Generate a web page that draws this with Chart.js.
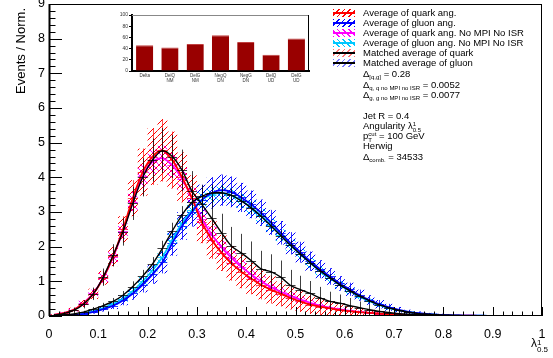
<!DOCTYPE html>
<html>
<head>
<meta charset="utf-8">
<script src="https://cdn.jsdelivr.net/npm/chart.js@4.4.0/dist/chart.umd.min.js"></script>
<style>
  body { margin: 0; background: #fff; font-family: "Liberation Sans", Arial, sans-serif; }
  #wrap { position: relative; width: 553px; height: 358px; overflow: hidden; }
  #mainChart { position: absolute; left: 0; top: 0; }
  #insetChart { position: absolute; left: 110px; top: 8px; }
  .leg { position: absolute; left: 333px; height: 10px; font-size: 9.5px; line-height: 10px; white-space: nowrap; }
  .sw { position: absolute; left: 0; top: 1px; width: 22px; height: 8px; }
  .sw i { position: absolute; left: 0; right: 0; top: 3px; height: 2px; }
  .leg .t { position: absolute; left: 30px; top: 0; }
  .note { position: absolute; left: 363px; font-size: 9.5px; line-height: 10px; white-space: nowrap; }
  .note sub { font-size: 6px; vertical-align: -2px; line-height: 0; }
  .ss { display: inline-block; vertical-align: -3px; font-size: 6px; line-height: 6px; }
  .ss b { display: block; font-weight: normal; }
  #ytitle { position: absolute; left: 20px; top: 8px; font-size: 13px; white-space: nowrap;
            transform-origin: 0 0; transform: rotate(-90deg) translate(-100%, -50%); }
  #xtitle { position: absolute; right: 5px; top: 336px; font-size: 12px; white-space: nowrap; }
  #xtitle .ss { font-size: 8px; line-height: 7px; vertical-align: -5px; }
</style>
</head>
<body>
<div id="wrap">
  <canvas id="mainChart" width="553" height="358"></canvas>
  <canvas id="insetChart" width="205" height="78"></canvas>

  <div class="leg" style="top:8px"><div class="sw" style="background:repeating-linear-gradient(135deg,#ff0000 0 1px,transparent 1px 4px)"><i style="background:#ff0000"></i></div><span class="t">Average of quark ang.</span></div>
  <div class="leg" style="top:18px"><div class="sw" style="background:repeating-linear-gradient(135deg,#0000ff 0 1px,transparent 1px 4px)"><i style="background:#0000ff"></i></div><span class="t">Average of gluon ang.</span></div>
  <div class="leg" style="top:28px"><div class="sw" style="background:repeating-linear-gradient(45deg,#ff00ff 0 1px,transparent 1px 4px)"><i style="background:#ff00ff"></i></div><span class="t">Average of quark ang. No MPI No ISR</span></div>
  <div class="leg" style="top:38px"><div class="sw" style="background:repeating-linear-gradient(45deg,#00c8ff 0 1px,transparent 1px 4px)"><i style="background:#00c8ff"></i></div><span class="t">Average of gluon ang. No MPI No ISR</span></div>
  <div class="leg" style="top:48px"><div class="sw" style="background:repeating-linear-gradient(135deg,rgba(255,60,60,0.7) 0 1px,transparent 1px 4px)"><i style="background:#000"></i></div><span class="t">Matched average of quark</span></div>
  <div class="leg" style="top:58px"><div class="sw" style="background:repeating-linear-gradient(135deg,rgba(60,60,255,0.7) 0 1px,transparent 1px 4px)"><i style="background:#000"></i></div><span class="t">Matched average of gluon</span></div>

  <div class="note" style="top:69px">Δ<sub>[q,g]</sub> = 0.28</div>
  <div class="note" style="top:80px">Δ<sub>q, q no MPI no ISR</sub> = 0.0052</div>
  <div class="note" style="top:90px">Δ<sub>g, g no MPI no ISR</sub> = 0.0077</div>
  <div class="note" style="top:111px">Jet R = 0.4</div>
  <div class="note" style="top:121px">Angularity λ<span class="ss"><b>1</b><b>0.5</b></span></div>
  <div class="note" style="top:131px">p<span class="ss"><b>cut</b><b>T</b></span> = 100 GeV</div>
  <div class="note" style="top:141px">Herwig</div>
  <div class="note" style="top:152px">Δ<sub>comb.</sub> = 34533</div>

  <div id="ytitle">Events / Norm.</div>
  <div id="xtitle">λ<span class="ss"><b>1</b><b>0.5</b></span></div>
</div>

<script>
// bin centres of the angularity histograms
const binCenters = [0.01,0.03,0.05,0.07,0.09,0.11,0.13,0.15,0.17,0.19,
                    0.21,0.23,0.25,0.27,0.29,0.31,0.33,0.35,0.37,0.39,
                    0.41,0.43,0.45,0.47,0.49,0.51,0.53,0.55,0.57,0.59,
                    0.61,0.63,0.65,0.67,0.69,0.71,0.73,0.75,0.77,0.79,
                    0.81,0.83,0.85,0.87,0.89,0.91,0.93,0.95,0.97,0.99];

const quarkAvg = [0.03,0.08,0.18,0.36,0.64,1.10,1.72,2.50,3.40,4.15,
                  4.60,4.78,4.50,4.00,3.40,2.70,2.20,1.82,1.52,1.28,
                  1.08,0.90,0.76,0.64,0.52,0.42,0.33,0.27,0.22,0.17,
                  0.14,0.11,0.09,0.07,0.05,0.04,0.03,0.02,0.02,0.01,
                  0.01,0.01,0.01,0.005,0.005,0.005,0.003,0.002,0.001,0.001];
const quarkAvgErr = [0.02,0.04,0.06,0.10,0.15,0.20,0.28,0.38,0.52,0.68,
                     0.82,0.90,0.82,0.72,0.66,0.60,0.55,0.52,0.50,0.48,
                     0.45,0.42,0.40,0.36,0.33,0.30,0.27,0.24,0.20,0.17,
                     0.14,0.12,0.10,0.08,0.06,0.05,0.04,0.03,0.02,0.02,
                     0.01,0.01,0.01,0.01,0.01,0.01,0.01,0.01,0.01,0.01];

const gluonAvg = [0.005,0.01,0.03,0.06,0.12,0.20,0.30,0.45,0.65,0.90,
                  1.20,1.55,2.10,2.60,3.00,3.35,3.55,3.63,3.58,3.42,
                  3.22,2.98,2.70,2.40,2.10,1.84,1.58,1.35,1.14,0.94,
                  0.77,0.60,0.46,0.34,0.25,0.18,0.12,0.08,0.05,0.035,
                  0.025,0.015,0.01,0.01,0.005,0.005,0.003,0.002,0.001,0.001];
const gluonAvgErr = [0.01,0.01,0.02,0.03,0.05,0.07,0.10,0.14,0.18,0.22,
                     0.27,0.32,0.36,0.40,0.42,0.44,0.45,0.45,0.44,0.42,
                     0.40,0.38,0.36,0.34,0.32,0.30,0.28,0.26,0.24,0.21,
                     0.19,0.16,0.14,0.12,0.10,0.08,0.06,0.05,0.04,0.03,
                     0.02,0.02,0.01,0.01,0.01,0.01,0.01,0.01,0.01,0.01];

const quarkNoMpi = [0.03,0.08,0.18,0.37,0.66,1.10,1.70,2.45,3.30,4.05,
                    4.45,4.55,4.35,3.95,3.40,2.80,2.35,1.98,1.68,1.42,
                    1.20,1.00,0.84,0.70,0.58,0.47,0.38,0.30,0.24,0.19,
                    0.15,0.12,0.09,0.07,0.05,0.04,0.03,0.02,0.02,0.01,
                    0.01,0.01,0.01,0.005,0.005,0.005,0.003,0.002,0.001,0.001];
const quarkNoMpiErr = [0.02,0.03,0.05,0.08,0.10,0.14,0.18,0.22,0.28,0.32,
                       0.35,0.36,0.35,0.32,0.30,0.26,0.24,0.22,0.20,0.18,
                       0.16,0.15,0.13,0.12,0.10,0.09,0.08,0.07,0.06,0.05,
                       0.04,0.04,0.03,0.03,0.02,0.02,0.02,0.01,0.01,0.01,
                       0.01,0.01,0.01,0.01,0.01,0.01,0.01,0.01,0.01,0.01];

const gluonNoMpi = [0.005,0.01,0.03,0.07,0.14,0.23,0.35,0.50,0.72,1.00,
                    1.32,1.70,2.20,2.68,3.05,3.35,3.50,3.55,3.48,3.33,
                    3.13,2.90,2.62,2.33,2.04,1.78,1.53,1.30,1.09,0.90,
                    0.72,0.56,0.43,0.32,0.23,0.16,0.11,0.07,0.05,0.03,
                    0.02,0.015,0.01,0.01,0.005,0.005,0.003,0.002,0.001,0.001];
const gluonNoMpiErr = [0.01,0.01,0.02,0.03,0.04,0.05,0.07,0.09,0.11,0.13,
                       0.15,0.17,0.19,0.20,0.21,0.22,0.22,0.22,0.22,0.21,
                       0.20,0.19,0.18,0.17,0.16,0.15,0.14,0.13,0.12,0.10,
                       0.09,0.08,0.07,0.06,0.05,0.04,0.03,0.03,0.02,0.02,
                       0.01,0.01,0.01,0.01,0.01,0.01,0.01,0.01,0.01,0.01];

const quarkMatched = [0.03,0.07,0.16,0.34,0.64,1.12,1.75,2.43,3.25,4.00,
                      4.50,4.77,4.60,4.20,3.60,3.22,2.82,2.40,2.02,1.82,
                      1.60,1.36,1.28,1.12,0.88,0.76,0.65,0.52,0.42,0.37,
                      0.30,0.24,0.18,0.13,0.10,0.07,0.05,0.035,0.025,0.02,
                      0.015,0.01,0.01,0.005,0.005,0.005,0.003,0.002,0.001,0.001];
const quarkMatchedErr = [0.03,0.05,0.08,0.12,0.18,0.25,0.32,0.40,0.48,0.55,
                         0.62,0.65,0.62,0.60,0.58,0.56,0.55,0.55,0.55,0.55,
                         0.55,0.52,0.50,0.48,0.45,0.40,0.36,0.32,0.28,0.25,
                         0.22,0.18,0.15,0.12,0.10,0.08,0.06,0.05,0.04,0.03,
                         0.02,0.02,0.02,0.01,0.01,0.01,0.01,0.01,0.01,0.01];

const gluonMatched = [0.01,0.03,0.06,0.11,0.20,0.30,0.42,0.60,0.85,1.15,
                      1.50,1.95,2.45,2.92,3.28,3.45,3.55,3.56,3.48,3.32,
                      3.12,2.88,2.60,2.32,2.04,1.78,1.53,1.30,1.10,0.90,
                      0.73,0.57,0.44,0.32,0.23,0.16,0.11,0.07,0.05,0.03,
                      0.02,0.015,0.01,0.01,0.005,0.005,0.003,0.002,0.001,0.001];
const gluonMatchedErr = [0.01,0.02,0.03,0.04,0.06,0.08,0.10,0.12,0.15,0.18,
                         0.20,0.22,0.24,0.25,0.25,0.25,0.24,0.22,0.20,0.19,
                         0.18,0.17,0.16,0.15,0.14,0.13,0.12,0.11,0.10,0.09,
                         0.08,0.07,0.06,0.05,0.04,0.04,0.03,0.02,0.02,0.02,
                         0.01,0.01,0.01,0.01,0.01,0.01,0.01,0.01,0.01,0.01];

// inset: matching percentages
const insetLabels = ['Delta', ['DelQ', 'NM'], ['DelG', 'NM'], ['NegQ', 'DN'], ['NegG', 'DN'], ['DelQ', 'UD'], ['DelG', 'UD']];
const insetValues = [46, 42, 48, 64, 52, 29, 58];

const FONT = '"Liberation Sans", Arial, sans-serif';
const binWidth = binCenters[1] - binCenters[0];

function toPoints(values) {
    return values.map((v, i) => ({ x: binCenters[i], y: v }));
}

// small diagonal hatch pattern, like ROOT fill style 3004/3005
function makeHatch(ctx, color, back) {
    const c = document.createElement('canvas');
    c.width = 6; c.height = 6;
    const g = c.getContext('2d');
    g.strokeStyle = color;
    g.lineWidth = 1;
    g.beginPath();
    if (back) {
        g.moveTo(0, 0); g.lineTo(6, 6);
        g.moveTo(-1, 5); g.lineTo(1, 7);
        g.moveTo(5, -1); g.lineTo(7, 1);
    } else {
        g.moveTo(0, 6); g.lineTo(6, 0);
        g.moveTo(-1, 1); g.lineTo(1, -1);
        g.moveTo(5, 7); g.lineTo(7, 5);
    }
    g.stroke();
    return ctx.createPattern(c, 'repeat');
}

function drawErrors(chart, onTop) {
    const { ctx, chartArea: a, scales: { x, y } } = chart;
    ctx.save();
    ctx.beginPath();
    ctx.rect(a.left, a.top, a.width, a.height);
    ctx.clip();
    const sets = chart.data.datasets;
    for (let i = sets.length - 1; i >= 0; i--) {
        const ds = sets[i];
        if (!!ds.barsOnTop !== onTop) continue;
        if (!ds._pattern && ds.hatchColor) ds._pattern = makeHatch(ctx, ds.hatchColor, ds.hatchBack);
        ds.data.forEach((p, k) => {
            const e = ds.errors[k];
            const x0 = x.getPixelForValue(p.x - binWidth / 2);
            const x1 = x.getPixelForValue(p.x + binWidth / 2);
            const xc = x.getPixelForValue(p.x);
            const yt = y.getPixelForValue(p.y + e);
            const yb = y.getPixelForValue(p.y - e);
            const yc = y.getPixelForValue(p.y);
            if (ds._pattern && !onTop) {
                ctx.fillStyle = ds._pattern;
                ctx.fillRect(x0, yt, x1 - x0, yb - yt);
            }
            ctx.strokeStyle = ds.barColor;
            ctx.lineWidth = 1;
            ctx.beginPath();
            ctx.moveTo(Math.round(xc) + 0.5, yt);
            ctx.lineTo(Math.round(xc) + 0.5, yb);
            ctx.moveTo(x0, Math.round(yc) + 0.5);
            ctx.lineTo(x1, Math.round(yc) + 0.5);
            ctx.stroke();
        });
    }
    ctx.restore();
}

const errorPlugin = {
    id: 'errorBoxes',
    beforeDatasetsDraw(chart) { drawErrors(chart, false); },
    afterDatasetsDraw(chart) { drawErrors(chart, true); }
};

// ROOT style frame with inward ticks on left and bottom axes
const framePlugin = {
    id: 'rootFrame',
    afterDraw(chart) {
        const { ctx, chartArea: a, scales: { x, y } } = chart;
        ctx.save();
        ctx.strokeStyle = '#000';
        ctx.lineWidth = 1;
        ctx.strokeRect(a.left + 0.5, a.top + 0.5, a.width - 1, a.height - 1);
        ctx.beginPath();
        const xStep = (x.max - x.min) / 50;
        for (let k = 0; k <= 50; k++) {
            const px = Math.round(x.getPixelForValue(x.min + k * xStep)) + 0.5;
            const len = k % 5 === 0 ? 9 : 4.5;
            ctx.moveTo(px, a.bottom);
            ctx.lineTo(px, a.bottom - len);
        }
        const yStep = (y.max - y.min) / 45;
        for (let k = 0; k <= 45; k++) {
            const py = Math.round(y.getPixelForValue(y.min + k * yStep)) + 0.5;
            const len = k % 5 === 0 ? 13 : 6.5;
            ctx.moveTo(a.left, py);
            ctx.lineTo(a.left + len, py);
        }
        ctx.stroke();
        ctx.lineWidth = 2;
        ctx.beginPath();
        ctx.moveTo(a.left + 0.5, a.top);
        ctx.lineTo(a.left + 0.5, a.bottom);
        ctx.stroke();
        ctx.restore();
    }
};

function lineSet(label, values, errors, color, extra) {
    return Object.assign({
        label: label,
        data: toPoints(values),
        errors: errors,
        borderColor: color,
        borderWidth: 1.8,
        pointRadius: 0,
        tension: 0.3,
        fill: false
    }, extra);
}

const mainCtx = document.getElementById('mainChart');
new Chart(mainCtx, {
    type: 'line',
    data: {
        datasets: [
            lineSet('Matched average of gluon', gluonMatched, gluonMatchedErr, '#000000',
                { borderWidth: 1.4, hatchColor: 'rgba(70,70,255,0.5)', barColor: 'rgba(0,0,0,0.75)', barsOnTop: true }),
            lineSet('Matched average of quark', quarkMatched, quarkMatchedErr, '#000000',
                { borderWidth: 1.4, hatchColor: 'rgba(255,70,70,0.5)', barColor: 'rgba(0,0,0,0.75)', barsOnTop: true }),
            lineSet('Average of gluon ang.', gluonAvg, gluonAvgErr, '#0000ff',
                { hatchColor: '#0000ff', barColor: 'rgba(0,0,255,0.8)' }),
            lineSet('Average of quark ang.', quarkAvg, quarkAvgErr, '#ff0000',
                { hatchColor: '#ff0000', barColor: 'rgba(255,0,0,0.7)' }),
            lineSet('Average of gluon ang. No MPI No ISR', gluonNoMpi, gluonNoMpiErr, '#00c8ff',
                { hatchColor: '#00c8ff', hatchBack: true, barColor: 'rgba(0,200,255,0.8)' }),
            lineSet('Average of quark ang. No MPI No ISR', quarkNoMpi, quarkNoMpiErr, '#ff00ff',
                { hatchColor: '#ff00ff', hatchBack: true, barColor: 'rgba(255,0,255,0.8)' })
        ]
    },
    options: {
        responsive: false,
        animation: false,
        layout: { padding: { left: 0, top: 4, right: 11, bottom: 0 } },
        plugins: { legend: { display: false }, tooltip: { enabled: false } },
        scales: {
            x: {
                type: 'linear',
                min: 0,
                max: 1,
                grid: { display: false, drawTicks: false },
                border: { display: false },
                ticks: {
                    stepSize: 0.1,
                    padding: 11,
                    color: '#000',
                    font: { family: FONT, size: 12.5 },
                    maxRotation: 0,
                    callback: v => String(+v.toFixed(1))
                },
                afterFit(s) {
                    s.height = 42;
                    s.paddingLeft = 0; s.paddingRight = 0;
                }
            },
            y: {
                min: 0,
                max: 9,
                grid: { display: false, drawTicks: false },
                border: { display: false },
                ticks: {
                    stepSize: 1,
                    padding: 4,
                    color: '#000',
                    font: { family: FONT, size: 12.5 }
                },
                afterFit(s) {
                    s.width = 49;
                    s.paddingTop = 0; s.paddingBottom = 0;
                }
            }
        }
    },
    plugins: [errorPlugin, framePlugin]
});

// inset frame: grey top line and black right edge
const insetFrame = {
    id: 'insetFrame',
    afterDraw(chart) {
        const { ctx, chartArea: a } = chart;
        ctx.save();
        ctx.strokeStyle = '#888';
        ctx.lineWidth = 1;
        ctx.beginPath();
        ctx.moveTo(a.left, a.top + 0.5);
        ctx.lineTo(a.right, a.top + 0.5);
        ctx.stroke();
        ctx.strokeStyle = '#000';
        ctx.beginPath();
        ctx.moveTo(a.right - 0.5, a.top);
        ctx.lineTo(a.right - 0.5, a.bottom);
        ctx.stroke();
        ctx.restore();
    }
};

new Chart(document.getElementById('insetChart'), {
    type: 'bar',
    data: {
        labels: insetLabels,
        datasets: [{
            data: insetValues,
            backgroundColor: '#990000',
            borderColor: '#c04040',
            borderWidth: { top: 1, left: 0, right: 0, bottom: 0 },
            barPercentage: 0.68,
            categoryPercentage: 1
        }]
    },
    options: {
        responsive: false,
        animation: false,
        layout: { padding: { left: 0, top: 7, right: 6, bottom: 0 } },
        plugins: { legend: { display: false }, tooltip: { enabled: false } },
        scales: {
            x: {
                grid: { display: false, drawTicks: false },
                border: { color: '#000', width: 2 },
                ticks: {
                    color: '#333',
                    padding: 2,
                    maxRotation: 0,
                    autoSkip: false,
                    font: { family: FONT, size: 4.5, lineHeight: 1.1 }
                },
                afterFit(s) {
                    s.height = 15;
                    s.paddingLeft = 0; s.paddingRight = 0;
                }
            },
            y: {
                min: 0,
                max: 100,
                grid: { drawOnChartArea: false, tickLength: 3, color: '#000' },
                border: { color: '#000', width: 2 },
                ticks: {
                    stepSize: 10,
                    padding: 1,
                    color: '#333',
                    font: { family: FONT, size: 5 }
                },
                afterFit(s) {
                    s.width = 22;
                    s.paddingTop = 0; s.paddingBottom = 0;
                }
            }
        }
    },
    plugins: [insetFrame]
});
</script>
</body>
</html>
